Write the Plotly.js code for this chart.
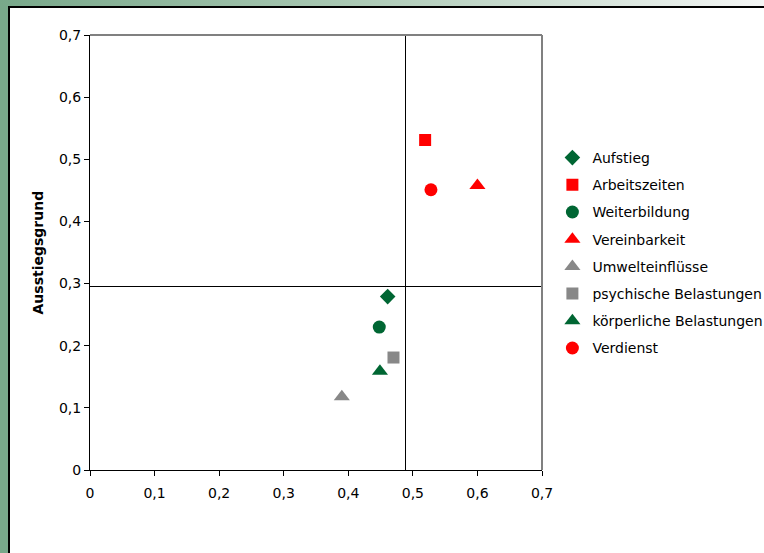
<!DOCTYPE html>
<html>
<head>
<meta charset="utf-8">
<script src="https://cdn.plot.ly/plotly-3.0.1.min.js"></script>
<style>
  html, body { margin: 0; padding: 0; width: 764px; height: 553px; overflow: hidden; background: #78a88a; }
  #top { position: absolute; left: 0; top: 0; width: 764px; height: 6px;
         background: linear-gradient(to right, #78a88a 0%, #a9c8b3 45%, #f4f6f5 100%); }
  #frame { position: absolute; left: 8px; top: 6px; width: 780px; height: 570px;
           background: #ffffff; border-left: 2px solid #000; border-top: 2px solid #000; box-sizing: border-box; }
  #chart { position: absolute; left: 0; top: 0; width: 764px; height: 553px; }
  #chart .shapelayer path { shape-rendering: crispEdges; }
</style>
</head>
<body>
<div id="top"></div>
<div id="frame"></div>
<div id="chart"></div>
<script>
// Data
const names   = ["Aufstieg", "Arbeitszeiten", "Weiterbildung", "Vereinbarkeit",
                 "Umwelteinflüsse", "psychische Belastungen", "körperliche Belastungen", "Verdienst"];
const xValues = [0.461, 0.519, 0.448, 0.600, 0.390, 0.470, 0.449, 0.528];
const yValues = [0.279, 0.531, 0.230, 0.458, 0.118, 0.181, 0.159, 0.451];
const symbols = ["diamond", "square", "circle", "triangle-up", "triangle-up", "square", "triangle-up", "circle"];
const colors  = ["#006633", "#ff0000", "#006633", "#ff0000", "#888888", "#888888", "#006633", "#ff0000"];
const sizes   = [12, 12, 13, 14, 14, 12, 14, 13];
const refX = 0.488;   // vertical reference line
const refY = 0.296;   // horizontal reference line
const axisMax = 0.7;
const tickStep = 0.1;
const yTitle = "Ausstiegsgrund";

const traces = names.map((n, i) => ({
  type: "scatter", mode: "markers", name: n,
  x: [xValues[i]], y: [yValues[i]],
  legendgroup: "g" + i,
  marker: { symbol: symbols[i], color: colors[i], size: sizes[i], line: { width: 0 } },
  hoverinfo: "x+y+name"
}));

const FONT = "DejaVu Sans, Arial, sans-serif";

const layout = {
  width: 764, height: 553,
  paper_bgcolor: "rgba(0,0,0,0)", plot_bgcolor: "#ffffff",
  margin: { l: 90, r: 222, t: 35, b: 83, autoexpand: false },
  separators: ",.",
  font: { family: FONT, size: 14, color: "#000" },
  showlegend: true,
  legend: {
    x: 1.023, xanchor: "left", y: 0.754, yanchor: "top",
    font: { family: FONT, size: 14, color: "#000" },
    tracegroupgap: 6, itemwidth: 30, bgcolor: "rgba(0,0,0,0)"
  },
  xaxis: {
    range: [0, axisMax], dtick: tickStep, tick0: 0, showgrid: false, zeroline: false,
    showline: true, linecolor: "#000", linewidth: 1,
    ticks: "outside", ticklen: 5, tickcolor: "#000", tickfont: { family: FONT, size: 14 },
    ticklabelstandoff: 5
  },
  yaxis: {
    range: [0, axisMax], dtick: tickStep, tick0: 0, showgrid: false, zeroline: false,
    showline: true, linecolor: "#000", linewidth: 1,
    ticks: "outside", ticklen: 5, tickcolor: "#000", tickfont: { family: FONT, size: 14 }
  },
  annotations: [
    { text: "<b>" + yTitle + "</b>", xref: "paper", yref: "paper", x: 0, y: 0.5,
      xanchor: "center", yanchor: "middle", xshift: -53, textangle: -90, showarrow: false,
      font: { family: FONT, size: 14, color: "#000" } }
  ],
  shapes: [
    { type: "line", xref: "paper", yref: "paper", x0: 0, x1: 1, y0: 1, y1: 1, line: { color: "#808080", width: 2 } },
    { type: "line", xref: "paper", yref: "paper", x0: 1, x1: 1, y0: 0, y1: 1, line: { color: "#808080", width: 2 } },
    { type: "line", xref: "x", yref: "paper", x0: refX, x1: refX, y0: 0, y1: 1, line: { color: "#000", width: 1 }, layer: "below" },
    { type: "line", xref: "paper", yref: "y", x0: 0, x1: 1, y0: refY, y1: refY, line: { color: "#000", width: 1 }, layer: "below" }
  ]
};

Plotly.newPlot("chart", traces, layout, { displayModeBar: false, staticPlot: true });
</script>
</body>
</html>
